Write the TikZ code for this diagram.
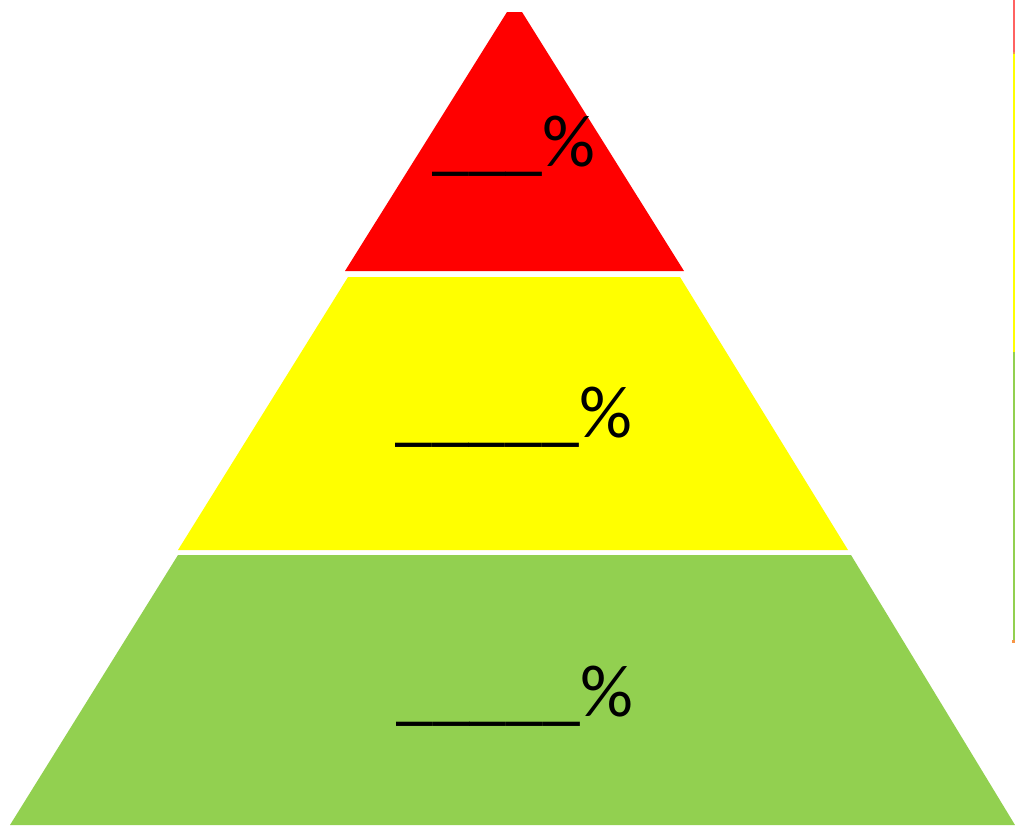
\documentclass[tikz,border=0pt]{standalone}
\usepackage{fontspec}
\setmainfont{Carlito}
\definecolor{tred}{HTML}{FF0000}
\definecolor{tyel}{HTML}{FFFF00}
\definecolor{tgrn}{HTML}{92D050}
\definecolor{lred}{HTML}{FF6262}
\definecolor{torg}{HTML}{F79646}
\begin{document}
\begin{tikzpicture}[x=1pt,y=-1pt,
  lbl/.style={anchor=base west,inner sep=0pt,font=\fontsize{74}{80}\selectfont,text=black},
  edge/.style={line width=2pt}]
\useasboundingbox (0,0) rectangle (1015,825);
% tiers
\fill[tred] (507,12) -- (522,12) -- (684,271) -- (345,271) -- cycle;
\fill[tyel] (348,277) -- (680,277) -- (848,550) -- (178,550) -- cycle;
\fill[tgrn] (178,555) -- (851,555) -- (1015,825) -- (10,825) -- cycle;
% labels
\node[lbl] (t1) at (432,166) {\_\_\_\%};
\node[lbl] (t2) at (395,437) {\_\_\_\_\_\%};
\node[lbl] (t3) at (396,716) {\_\_\_\_\_\%};
% right edge strip
\draw[edge,lred] (1014,0) -- (1014,52);
\draw[edge,torg] (1014,52) -- (1014,54);
\draw[edge,tyel] (1014,54) -- (1014,352);
\draw[edge,tgrn] (1014,352) -- (1014,640);
\fill[torg] (1012,640) rectangle (1015,643);
\end{tikzpicture}
\end{document}
